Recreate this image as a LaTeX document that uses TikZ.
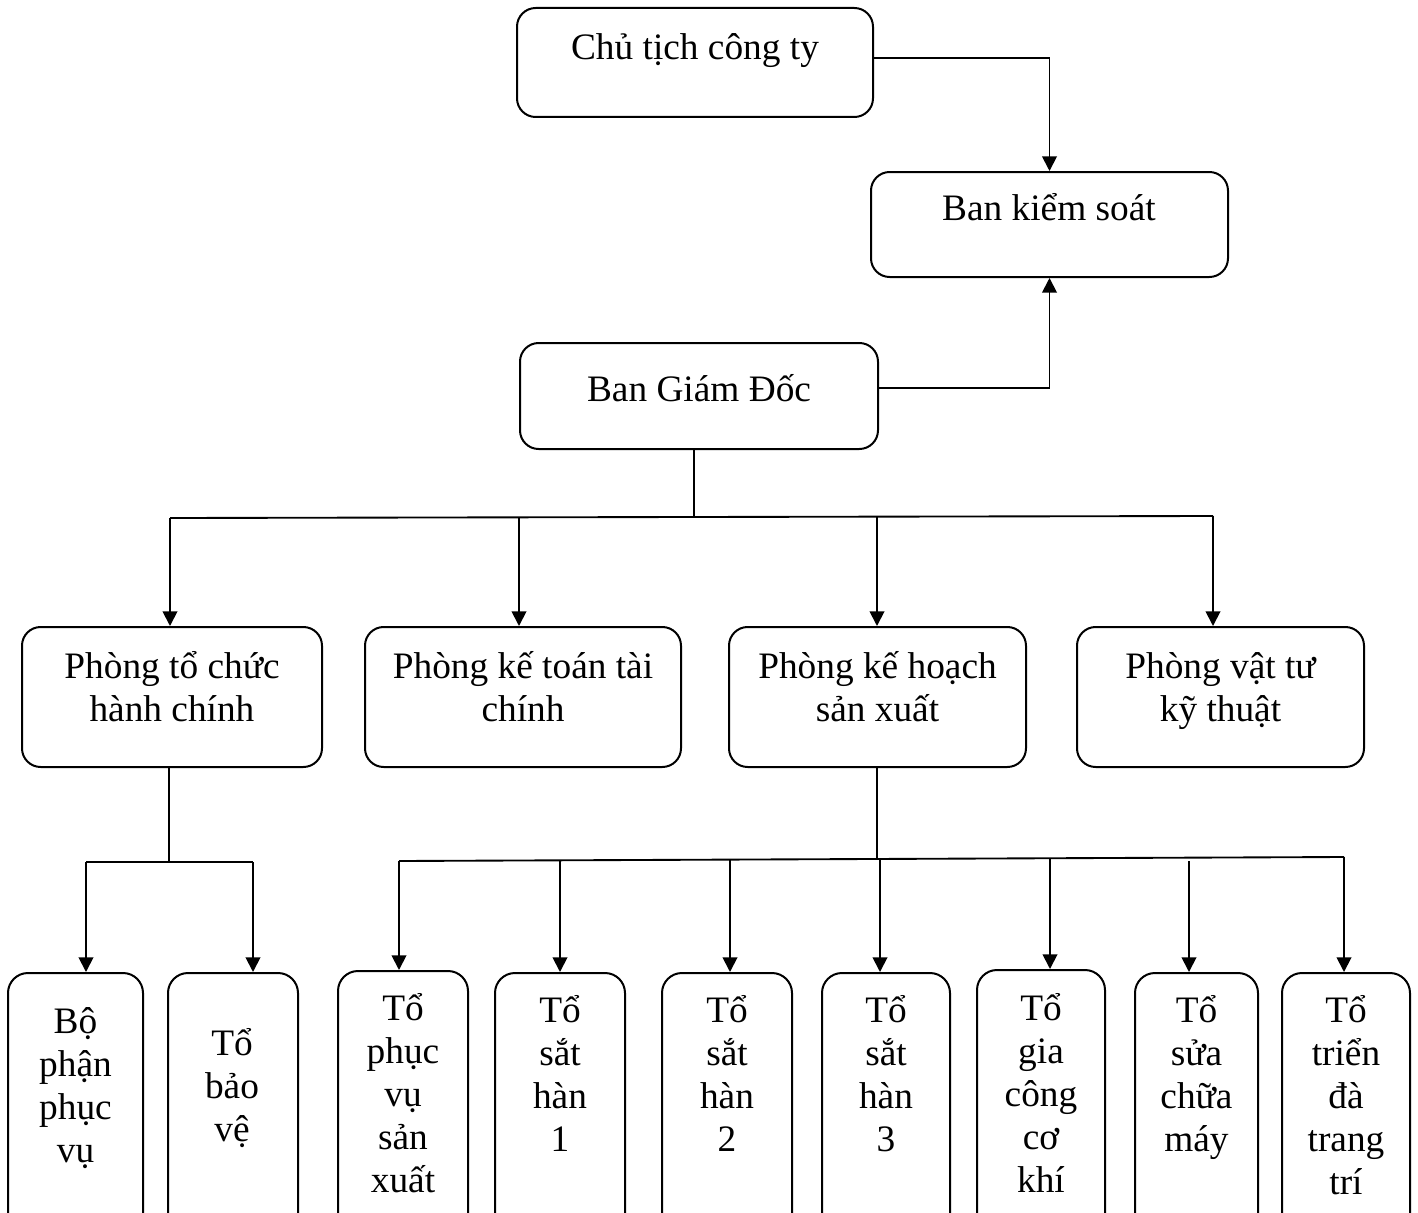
\documentclass[tikz,border=0pt]{standalone}
\usepackage{fontspec}
\setmainfont{Liberation Serif}
\usetikzlibrary{arrows.meta,fit}
% stacked lines whose baseline is the first line
\newcommand\lines[1]{\begin{tabular}[t]{@{}c@{}}#1\end{tabular}}

\begin{document}
\begin{tikzpicture}[x=0.75pt,y=-0.75pt,
  box/.style={draw, line width=1.5pt, rounded corners=14pt, inner sep=0pt},
  tallbox/.style={box, rounded corners=15pt},
  lbl/.style={anchor=base, inner sep=0pt, font=\fontsize{28}{32.3}\selectfont},
  link/.style={line width=1.4pt},
  arr/.style={link, -{Triangle[length=11pt,width=11pt]}},
]
\useasboundingbox (0,0) rectangle (1418,1213);
\clip (0,0) rectangle (1418,1213);

% ---- top level
\node[box, fit={(517,8) (873,117)}] (chu) {};
\node[lbl] (tchu) at (695,60) {Chủ tịch công ty};
\node[box, fit={(871,172) (1228,277)}] (bks) {};
\node[lbl] (tbks) at (1049,220) {Ban kiểm soát};
\node[box, fit={(520,343) (878,449)}] (bgd) {};
\node[lbl] (tbgd) at (699,401) {Ban Giám Đốc};

% ---- departments
\node[box, fit={(22,627) (322,767)}] (pA) {};
\node[lbl] (tpA) at (172,678) {\lines{Phòng tổ chức\\hành chính}};
\node[box, fit={(365,627) (681,767)}] (pB) {};
\node[lbl] (tpB) at (523,678) {\lines{Phòng kế toán tài\\chính}};
\node[box, fit={(729,627) (1026,767)}] (pC) {};
\node[lbl] (tpC) at (877.5,678) {\lines{Phòng kế hoạch\\sản xuất}};
\node[box, fit={(1077,627) (1364,767)}] (pD) {};
\node[lbl] (tpD) at (1220.5,678) {\lines{Phòng vật tư\\kỹ thuật}};

% ---- teams
\node[tallbox, fit={(8,973) (143,1240)}] (r1) {};
\node[lbl] (tr1) at (75.5,1033) {\lines{Bộ\\phận\\phục\\vụ}};
\node[tallbox, fit={(168,973) (298,1240)}] (r2) {};
\node[lbl] (tr2) at (232,1055) {\lines{Tổ\\bảo\\vệ}};
\node[tallbox, fit={(338,971) (468,1240)}] (r3) {};
\node[lbl] (tr3) at (403,1020) {\lines{Tổ\\phục\\vụ\\sản\\xuất}};
\node[tallbox, fit={(495,973) (625,1240)}] (r4) {};
\node[lbl] (tr4) at (560,1022) {\lines{Tổ\\sắt\\hàn\\1}};
\node[tallbox, fit={(662,973) (792,1240)}] (r5) {};
\node[lbl] (tr5) at (727,1022) {\lines{Tổ\\sắt\\hàn\\2}};
\node[tallbox, fit={(822,973) (950,1240)}] (r6) {};
\node[lbl] (tr6) at (886,1022) {\lines{Tổ\\sắt\\hàn\\3}};
\node[tallbox, fit={(977,970) (1105,1240)}] (r7) {};
\node[lbl] (tr7) at (1041,1020) {\lines{Tổ\\gia\\công\\cơ\\khí}};
\node[tallbox, fit={(1135,973) (1258,1240)}] (r8) {};
\node[lbl] (tr8) at (1196.5,1022) {\lines{Tổ\\sửa\\chữa\\máy}};
\node[tallbox, fit={(1282,973) (1410,1240)}] (r9) {};
\node[lbl] (tr9) at (1346,1022) {\lines{Tổ\\triển\\đà\\trang\\trí}};

% ---- links between the top boxes
\draw[arr] ([yshift=3.4pt]chu.east) -| (bks.north);
\draw[arr] ([yshift=6pt]bgd.east) -| (bks.south);

% ---- Ban Giám Đốc to the departments
\coordinate (t0) at (694,517);
\coordinate (t1) at (170,518);
\coordinate (t2) at (519,517.3);
\coordinate (t3) at (877,516.6);
\coordinate (t4) at (1213,516);
\draw[link] (bgd.south -| t0) -- (t0);
\draw[link] (t1) -- (t4);
\draw[arr] (t1) -- (t1 |- pA.north);
\draw[arr] (t2) -- (t2 |- pB.north);
\draw[arr] (t3) -- (t3 |- pC.north);
\draw[arr] (t4) -- (t4 |- pD.north);

% ---- Phòng tổ chức hành chính to its teams
\coordinate (a0) at (169,862);
\coordinate (a1) at (86,862);
\coordinate (a2) at (253,862);
\draw[link] (pA.south -| a0) -- (a0);
\draw[link] (a1) -- (a2);
\draw[arr] (a1) -- (a1 |- r1.north);
\draw[arr] (a2) -- (a2 |- r2.north);

% ---- Phòng kế hoạch sản xuất to its teams
\coordinate (c0) at (877,859);
\coordinate (c1) at (399,861);
\coordinate (c2) at (560,860.3);
\coordinate (c3) at (730,859.6);
\coordinate (c4) at (880,859);
\coordinate (c5) at (1050,858.2);
\coordinate (c6) at (1189,861);
\coordinate (c7) at (1344,857);
\draw[link] (pC.south -| c0) -- (c0);
\draw[link] (c1) -- (c7);
\draw[arr] (c1) -- (c1 |- r3.north);
\draw[arr] (c2) -- (c2 |- r4.north);
\draw[arr] (c3) -- (c3 |- r5.north);
\draw[arr] (c4) -- (c4 |- r6.north);
\draw[arr] (c5) -- (c5 |- r7.north);
\draw[arr] (c6) -- (c6 |- r8.north);
\draw[arr] (c7) -- (c7 |- r9.north);
\end{tikzpicture}
\end{document}
